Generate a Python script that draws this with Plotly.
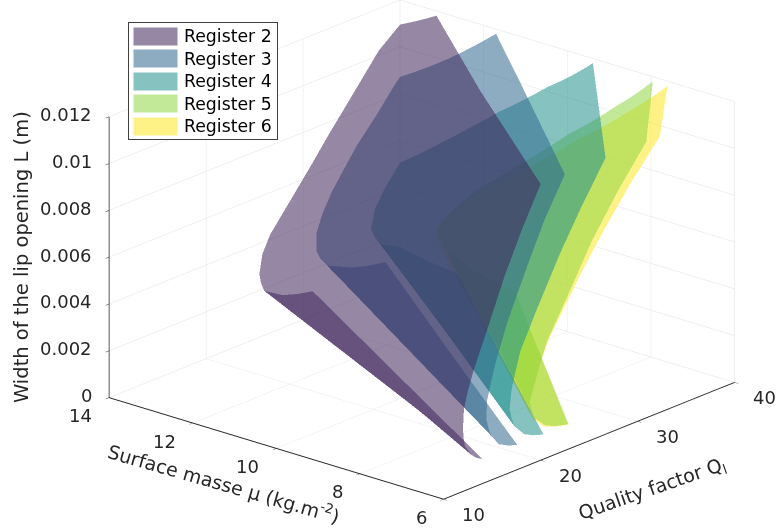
import plotly.graph_objects as go

mu_values = [6, 10, 14]
lip_width = [0.00105, 0.0012, 0.0014, 0.0019, 0.0023, 0.0027, 0.0035, 0.0042, 0.005, 0.0065, 0.0075, 0.0085, 0.0102, 0.0118]
names = ["Register 2", "Register 3", "Register 4", "Register 5", "Register 6"]
colors = ["#40245b", "#31688e", "#21908c", "#90d743", "#fde725"]
swatches = ["#9687a5", "#8eacc1", "#85c2c0", "#c2e998", "#fef287"]

q_reg2 = [[14.0, 13.4, 12.9, 12.2, 12.05, 12.0, 12.1, 12.5, 13.1, 14.5, 15.4, 16.3, 18.1, 20.0],
          [22.5, 21.4, 20.4, 19.1, 18.85, 18.75, 18.95, 19.55, 20.6, 22.7, 24.0, 25.5, 28.0, 31.0],
          [31.0, 29.4, 27.9, 26.0, 25.65, 25.5, 25.8, 26.6, 28.1, 30.9, 32.7, 34.6, 37.8, 42.5]]
q_reg3 = [[17.6, 16.6, 15.7, 14.9, 14.6, 14.4, 14.5, 14.9, 15.4, 16.6, 17.6, 18.6, 20.4, 22.5],
          [28.0, 26.6, 25.4, 23.7, 23.2, 22.9, 23.0, 23.5, 24.2, 26.0, 27.6, 29.1, 32.0, 34.8],
          [38.5, 36.6, 35.0, 32.5, 31.8, 31.4, 31.4, 32.0, 33.0, 35.5, 37.6, 39.5, 43.5, 47.0]]
q_reg4 = [[20.3, 19.2, 18.3, 17.3, 17.0, 16.8, 17.0, 17.4, 17.9, 19.6, 20.8, 22.0, 24.3, 26.7],
          [32.2, 30.6, 29.3, 27.7, 27.2, 26.9, 27.2, 27.9, 28.9, 31.3, 33.0, 34.8, 38.4, 42.4],
          [44.2, 42.0, 40.2, 38.0, 37.4, 37.0, 37.4, 38.4, 39.9, 43.0, 45.2, 47.5, 52.0, 57.0]]
q_reg5 = [[22.9, 21.6, 20.5, 19.4, 19.1, 18.9, 19.5, 20.0, 20.7, 22.7, 24.0, 25.3, 28.0, 30.9],
          [35.9, 34.4, 33.0, 31.4, 31.0, 30.8, 31.5, 32.3, 33.4, 36.1, 38.1, 40.2, 44.7, 49.5],
          [49.0, 47.2, 45.5, 43.3, 42.8, 42.6, 43.5, 44.6, 46.0, 49.5, 52.2, 55.0, 61.0, 67.0]]
q_reg6 = [[22.8, 21.4, 20.3, 19.2, 18.9, 18.8, 19.4, 20.0, 20.8, 23.0, 24.5, 26.1, 29.1, 32.3],
          [35.9, 34.2, 32.7, 31.1, 30.8, 30.7, 31.5, 32.4, 33.6, 36.8, 39.0, 41.3, 46.3, 51.5],
          [49.0, 47.0, 45.0, 42.9, 42.6, 42.5, 43.5, 44.8, 46.3, 50.5, 53.4, 56.5, 63.0, 69.5]]
all_q = [q_reg2, q_reg3, q_reg4, q_reg5, q_reg6]

mu_ticks = [6, 8, 10, 12, 14]
q_ticks = [10, 20, 30, 40]
l_ticks = [0, 0.002, 0.004, 0.006, 0.008, 0.01, 0.012]
l_labels = ["0", "0.002", "0.004", "0.006", "0.008", "0.01", "0.012"]

fig = go.Figure()
# farthest register first so that nearer sheets blend over it
for name, color, q in reversed(list(zip(names, colors, all_q))):
    X = [list(mu_values) for _ in lip_width]
    Y = [[col[i] for col in q] for i in range(len(lip_width))]
    Z = [[l] * len(mu_values) for l in lip_width]
    fig.add_trace(go.Surface(
        x=X, y=Y, z=Z, name=name, surfacecolor=[[0] * len(mu_values) for _ in lip_width],
        cmin=0, cmax=1, colorscale=[[0, color], [1, color]], showscale=False,
        opacity=0.55, hoverinfo="skip", showlegend=False,
        lighting=dict(ambient=1, diffuse=0, specular=0, roughness=1, fresnel=0),
    ))

axis_common = dict(
    showbackground=False, showgrid=True, gridcolor="#e2e2e2", gridwidth=1,
    showline=True, linecolor="#262626", linewidth=2, ticks="outside",
    ticklen=5, tickwidth=1, tickcolor="#262626", zeroline=False, showspikes=False,
    showticklabels=True, tickfont=dict(size=1, color="rgba(255,255,255,0)"),
    title=dict(text=""),
)
d = 2.2
S = 275.0
tx = -34 / S
tz = -16.5 / (S * 0.937)
k = 1.67

tick_font = dict(size=18, color="#262626", family="DejaVu Sans")
scene_labels = []
for t in mu_ticks:
    scene_labels.append(dict(x=t, y=10, z=0, text=str(t), showarrow=False, font=tick_font,
                             xanchor="right", yanchor="middle", xshift=-15, yshift=-18))
for t in q_ticks:
    scene_labels.append(dict(x=6, y=t, z=0, text=str(t), showarrow=False, font=tick_font,
                             xanchor="left", yanchor="middle", xshift=16, yshift=-15))
for t, lab in zip(l_ticks, l_labels):
    scene_labels.append(dict(x=14, y=10, z=t, text=lab, showarrow=False, font=tick_font,
                             xanchor="right", yanchor="middle", xshift=-15, yshift=2))

annotations = [
    dict(x=22, y=257, text="Width of the lip opening L (m)", textangle=-90, font=dict(size=19.5)),
    dict(x=224, y=483, text="Surface masse μ (kg.m<sup>-2</sup>)", textangle=16, font=dict(size=19)),
    dict(x=652, y=489, text="Quality factor Q<sub>l</sub>", textangle=-19.2, font=dict(size=19)),
    dict(x=202.5, y=80.5, text=" ", width=148, height=116, bgcolor="white", bordercolor="#404040",
         borderwidth=1, borderpad=0, font=dict(size=10)),
]
for i, (name, sw) in enumerate(zip(names, swatches)):
    annotations.append(dict(x=155.5, y=36.5 + 22.4 * i, text=" ", width=43, height=16.5,
                            bgcolor=sw, borderpad=0, font=dict(size=10)))
    annotations.append(dict(x=182, y=36.5 + 22.4 * i, text=name, xanchor="left",
                            font=dict(size=17.3, color="black")))

fig.update_layout(
    width=778, height=531, margin=dict(l=0, r=0, t=0, b=0),
    paper_bgcolor="white", font=dict(family="DejaVu Sans", color="#262626"),
    showlegend=False,
    annotations=[dict(dict(xanchor="center", yanchor="middle"), **dict(a, xref="paper", yref="paper", showarrow=False,
                      x=a["x"] / 778, y=1 - a["y"] / 531)) for a in annotations],
    scene=dict(
        domain=dict(x=[0, 1], y=[0, 1]),
        aspectmode="manual", aspectratio=dict(x=k, y=k, z=0.676 * k),
        annotations=scene_labels,
        camera=dict(projection=dict(type="orthographic"), up=dict(x=0, y=0, z=1),
                    center=dict(x=0.755 * tx, y=0.656 * tx, z=tz),
                    eye=dict(x=0.615 * d + 0.755 * tx, y=-0.707 * d + 0.656 * tx, z=0.349 * d + tz)),
        xaxis=dict(range=[14, 6], tickvals=mu_ticks, **axis_common),
        yaxis=dict(range=[10, 40], tickvals=q_ticks, **axis_common),
        zaxis=dict(range=[0, 0.012], tickvals=l_ticks, **axis_common),
    ),
)
fig.write_html("out.html", config={"displayModeBar": False},
               post_script="document.body.style.margin='0';document.body.style.overflow='hidden';")
